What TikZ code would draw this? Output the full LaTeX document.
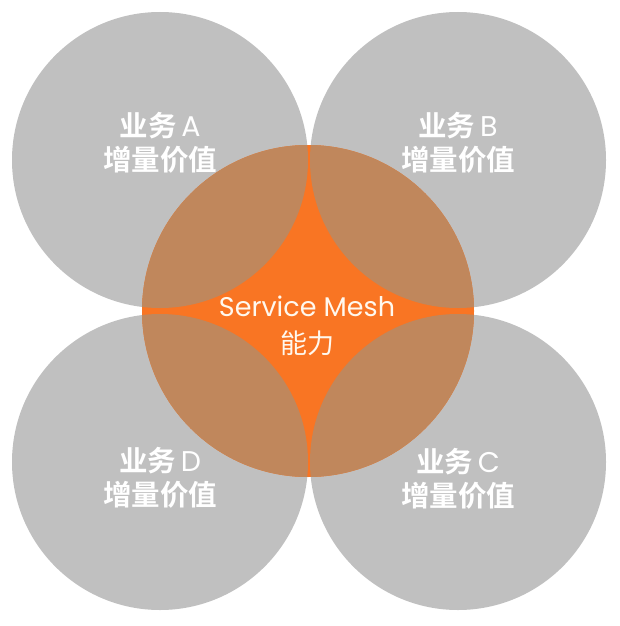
\documentclass[tikz,border=0pt]{standalone}
\usepackage{fontspec}
\newfontfamily\cjk{Noto Sans CJK SC}
\newfontfamily\cjkb{Noto Sans CJK SC Bold}
\newfontfamily\lat{Poppins}
\definecolor{grayc}{HTML}{C0C0C0}
\definecolor{brownc}{HTML}{C0875C}
\definecolor{orangec}{HTML}{F97523}
\definecolor{txtc}{HTML}{FFF8EE}
\begin{document}
\begin{tikzpicture}[x=1pt,y=-1pt,
  lbl/.style={text=white,align=center,font=\fontsize{28.5}{34}\selectfont\cjkb},
  core/.style={text=txtc,align=center,font=\fontsize{27}{37}\selectfont}]
\useasboundingbox (0,0) rectangle (620,626);
\fill[white] (0,0) rectangle (620,626);
% gray circles
\foreach \cx/\cy in {160/160,458/160,458/462,160/462}
  \fill[grayc] (\cx,\cy) circle[radius=148];
% orange circle
\fill[orangec] (308,311) circle[radius=166];
\begin{scope}
  \clip (308,311) circle[radius=166];
  \foreach \cx/\cy in {160/160,458/160,458/462,160/462}
    \fill[brownc] (\cx,\cy) circle[radius=148];
\end{scope}
% labels
\node[lbl] (a) at (160,143) {业务\,{\lat A}\\增量价值};
\node[lbl] (b) at (458,143) {业务\,{\lat B}\\增量价值};
\node[lbl] (c) at (458,479) {业务\,{\lat C}\\增量价值};
\node[lbl] (d) at (160,478) {业务\,{\lat D}\\增量价值};
\node[core] (m) at (307,326) {{\lat Service Mesh}\\{\cjk 能力}};
\end{tikzpicture}
\end{document}
